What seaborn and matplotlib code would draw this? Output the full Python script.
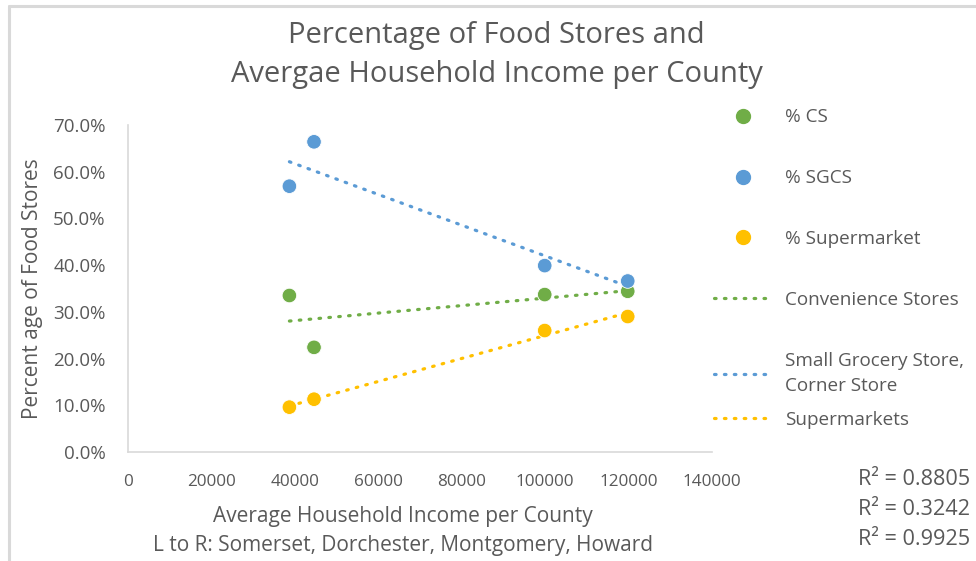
import matplotlib
matplotlib.use('Agg')
import matplotlib.pyplot as plt
import numpy as np
import pandas as pd
import seaborn as sns
from matplotlib.lines import Line2D
from matplotlib.ticker import PercentFormatter

# average household income per county, L to R: Somerset, Dorchester, Montgomery, Howard
INCOME = [38700, 44600, 99900, 119800]
PCT_CS = [0.335, 0.224, 0.337, 0.344]
PCT_SGCS = [0.569, 0.664, 0.399, 0.366]
PCT_SUPERMARKET = [0.096, 0.113, 0.260, 0.290]
R2_LABELS = ['R² = 0.8805', 'R² = 0.3242', 'R² = 0.9925']

POINT_LABELS = ['% CS', '% SGCS', '% Supermarket']
TREND_LABELS = ['Convenience Stores', 'Small Grocery Store,\nCorner Store', 'Supermarkets']
COLORS = ['#70AD47', '#5B9BD5', '#FFC000']
TEXT = '#595959'
AXIS = '#D9D9D9'
DOTTED = (0, (0.5, 2.6))


def main():
    sns.set_style('white')
    plt.rcParams['font.family'] = ['Open Sans', 'DejaVu Sans']

    df = pd.DataFrame({'income': INCOME * 3,
                       'pct': PCT_CS + PCT_SGCS + PCT_SUPERMARKET,
                       'series': [lab for lab in POINT_LABELS for _ in INCOME]})

    fig = plt.figure(figsize=(9.76, 5.61), dpi=100)
    ax = fig.add_axes([0.1311, 0.1943, 0.5984, 0.5829])

    for (name, grp), color in zip(df.groupby('series', sort=False), COLORS):
        sns.regplot(ax=ax, data=grp, x='income', y='pct', scatter=False, ci=None, truncate=True,
                    line_kws=dict(color=color, linestyle=DOTTED, linewidth=2.3, dash_capstyle='round'))
    sns.scatterplot(ax=ax, data=df, x='income', y='pct', hue='series', palette=COLORS, s=110,
                    edgecolor='white', linewidth=0.6, legend=False, zorder=3)

    ax.set_xlim(0, 140000)
    ax.set_ylim(0, 0.70)
    ax.set_xticks(np.arange(0, 140001, 20000))
    ax.set_yticks(np.arange(0, 0.701, 0.1))
    ax.yaxis.set_major_formatter(PercentFormatter(1.0, decimals=1))
    ax.tick_params(axis='both', length=0, labelcolor=TEXT)
    ax.tick_params(axis='y', pad=16, labelsize=13.5)
    ax.tick_params(axis='x', pad=16, labelsize=12.3)
    for side in ['top', 'right']:
        ax.spines[side].set_visible(False)
    for side in ['left', 'bottom']:
        ax.spines[side].set_color(AXIS)
        ax.spines[side].set_linewidth(1.2)

    ax.set_xlabel('Average Household Income per County\nL to R: Somerset, Dorchester, Montgomery, Howard',
                  fontsize=15, color=TEXT, linespacing=1.5)
    ax.xaxis.set_label_coords(0.471, -0.165)
    ax.set_ylabel('Percent age of Food Stores', fontsize=15, color=TEXT)
    ax.yaxis.set_label_coords(-0.145, 0.5)

    fig.suptitle('Percentage of Food Stores and\nAvergae Household Income per County', x=0.509, y=0.962,
                 fontsize=21, color=TEXT, linespacing=1.42)

    handles = [Line2D([], [], marker='o', linestyle='None', markersize=10, color=c) for c in COLORS]
    handles += [Line2D([], [], color=c, linestyle=DOTTED, linewidth=2.3, dash_capstyle='round')
                for c in COLORS]
    labels = POINT_LABELS + TREND_LABELS
    leg_kw = dict(loc='upper left', frameon=False, fontsize=13.6, labelcolor=TEXT, labelspacing=2.27,
                  handlelength=3.07, handletextpad=0.65, borderpad=0, borderaxespad=0)
    # Excel packs the last entry tighter, so it gets its own legend
    leg = fig.legend(handles[:5], labels[:5], bbox_to_anchor=(0.732, 0.807), **leg_kw)
    leg.get_texts()[4].set_linespacing(1.5)
    fig.legend(handles[5:], labels[5:], bbox_to_anchor=(0.732, 0.268), **leg_kw)

    for i, lab in enumerate(R2_LABELS):
        fig.text(0.994, 0.1455 - i * 0.0535, lab, ha='right', va='center', fontsize=15.6, color=TEXT)

    # chart area border (top and left edges visible)
    fig.add_artist(Line2D([0.0095, 0.0095], [0, 0.989], color=AXIS, linewidth=2.2, transform=fig.transFigure))
    fig.add_artist(Line2D([0.0095, 1], [0.989, 0.989], color=AXIS, linewidth=2.2, transform=fig.transFigure))

    fig.savefig('out.png', dpi=100)


if __name__ == '__main__':
    main()
